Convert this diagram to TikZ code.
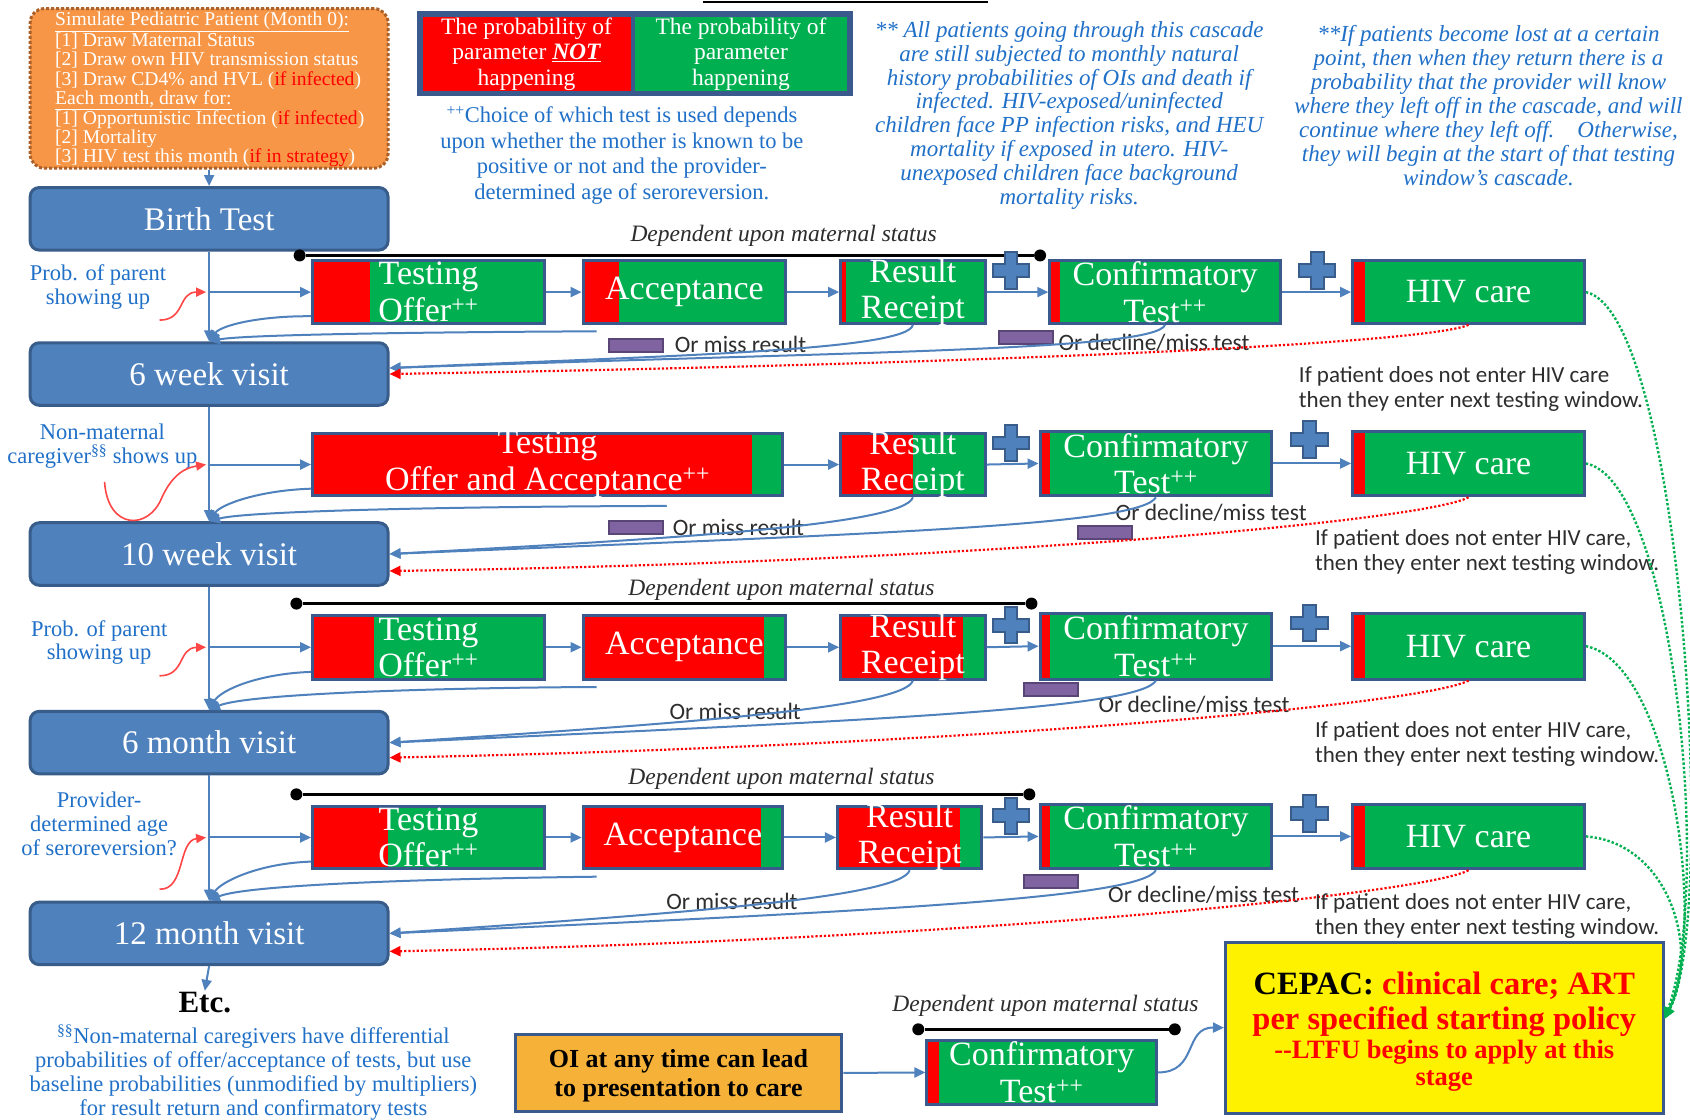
\documentclass[tikz,border=0pt]{standalone}
\usepackage{fontspec}
\setmainfont{Liberation Serif}
\newfontfamily\notefont{Carlito}
\usetikzlibrary{arrows.meta,fit,calc}

\definecolor{visitfill}{RGB}{79,129,189}
\definecolor{visitedge}{RGB}{56,93,138}
\definecolor{okgreen}{RGB}{0,176,80}
\definecolor{nored}{RGB}{255,0,0}
\definecolor{stepedge}{RGB}{58,90,142}
\definecolor{simfill}{RGB}{247,150,70}
\definecolor{simedge}{RGB}{170,96,40}
\definecolor{oifill}{RGB}{246,178,56}
\definecolor{noteblue}{RGB}{32,112,200}
\definecolor{minusfill}{RGB}{128,100,162}
\definecolor{minusedge}{RGB}{90,70,118}
\definecolor{flowblue}{RGB}{79,129,189}
\definecolor{notegray}{RGB}{45,45,45}
\definecolor{hintred}{RGB}{255,70,70}

\newcommand{\fs}[2]{\fontsize{#1}{#2}\selectfont}

\begin{document}
\begin{tikzpicture}[x=1.0778pt,y=-1.0778pt,
  visit/.style={draw=visitedge,line width=3pt,fill=visitfill,rounded corners=9pt,inner sep=0pt},
  visittext/.style={text=white,font=\fs{33}{36},inner sep=0pt},
  stepbox/.style={draw=stepedge,line width=3pt,fill=okgreen,inner sep=0pt},
  redstepbox/.style={stepbox,fill=nored},
  steptext/.style={text=white,align=center,font=\fs{34}{36.5},inner sep=0pt},
  redpart/.style={path picture={\fill[nored] (path picture bounding box.north west) rectangle ([xshift=#1]path picture bounding box.south west);}},
  greenpart/.style={path picture={\fill[okgreen] ([xshift=-#1]path picture bounding box.north east) rectangle (path picture bounding box.south east);}},
  flow/.style={draw=flowblue,line width=2pt,-{Triangle[length=11pt,width=10pt]}},
  lost/.style={draw=nored,line width=2.2pt,dotted,-{Triangle[length=11pt,width=10pt]}},
  tocare/.style={draw=okgreen,line width=2.4pt,dotted,-{Triangle[length=11pt,width=10pt]}},
  hint/.style={draw=hintred,line width=1.6pt,-{Triangle[length=10pt,width=9pt]}},
  minus/.style={draw=minusedge,line width=2pt,fill=minusfill,minimum width=54pt,minimum height=13pt,inner sep=0pt},
  depline/.style={line width=2.5pt,black},
  depdot/.style={circle,fill=black,minimum size=12pt,inner sep=0pt},
  deplabel/.style={font=\itshape\fs{23.5}{26},text=notegray,inner sep=0pt},
  missnote/.style={font=\notefont\fs{23.5}{25},text=notegray,anchor=west,inner sep=0pt},
  carenote/.style={font=\notefont\fs{23}{25},text=notegray,align=left,anchor=west,inner sep=0pt},
  bluenote/.style={text=noteblue,align=center,inner sep=0pt},
  pics/plussign/.style={code={\filldraw[fill=visitfill,draw=visitedge,line width=2pt]
    (-6,-17)--(6,-17)--(6,-6)--(17,-6)--(17,6)--(6,6)--(6,17)--(-6,17)--(-6,6)--(-17,6)--(-17,-6)--(-6,-6)--cycle;}}
]
\useasboundingbox (0,0) rectangle (1568,1039);
\fill[white] (0,0) rectangle (1568,1039);

% ---------- simulation set-up ----------
\node[draw=simedge,line width=3pt,dash pattern=on 3pt off 2pt,fill=simfill,rounded corners=14pt,inner sep=0pt,fit={(28,8)(360,156)}] (sim) {};
\node[anchor=north west,inner sep=0pt,text=white,align=left,font=\fs{19.6}{19.4}] (sim-l) at (51,11) {%
\underline{Simulate Pediatric Patient (Month 0):}\\
{[1]} Draw Maternal Status\\
{[2]} Draw own HIV transmission status\\
{[3]} Draw CD4\% and HVL (\textcolor{nored}{if infected})\\
\underline{Each month, draw for:}\\
{[1]} Opportunistic Infection (\textcolor{nored}{if infected})\\
{[2]} Mortality\\
{[3]} HIV test this month (\textcolor{nored}{if in strategy})};

% ---------- legend ----------
\node[fill=stepedge,draw=stepedge,line width=3pt,inner sep=0pt,fit={(388,12)(790,88)}] (legend) {};
\node[fill=nored,inner sep=0pt,fit={(392,16)(585,84)}] (legend-no) {};
\node[fill=okgreen,inner sep=0pt,fit={(589,16)(786,84)}] (legend-yes) {};
\node[text=white,align=center,font=\fs{23.5}{25.5},inner sep=0pt] (legend-no-l) at (legend-no) {The probability of\\ parameter \textbf{\textit{\underline{NOT}}}\\ happening};
\node[text=white,align=center,font=\fs{23.5}{25.5},inner sep=0pt] (legend-yes-l) at (legend-yes) {The probability of\\ parameter\\ happening};

\coordinate (topl) at (652,2);
\coordinate (topr) at (917,2);
\draw[depline] (topl) -- (topr);

% ---------- notes at the top ----------
\node[bluenote,font=\fs{22.5}{25.5}] (choice) at (577,144) {\textsuperscript{++}Choice of which test is used depends\\ upon whether the mother is known to be\\ positive or not and the provider-\\ determined age of seroreversion.};
\node[bluenote,font=\itshape\fs{23}{23.8}] (natural) at (992,107) {** All patients going through this cascade\\ are still subjected to monthly natural\\ history probabilities of OIs and death if\\ infected. HIV-exposed/uninfected\\ children face PP infection risks, and HEU\\ mortality if exposed in utero. HIV-\\ unexposed children face background\\ mortality risks.};
\node[bluenote,font=\itshape\fs{23}{24}] (lostnote) at (1381,98) {**If patients become lost at a certain\\ point, then when they return there is a\\ probability that the provider will know\\ where they left off in the cascade, and will\\ continue where they left off.\quad Otherwise,\\ they will begin at the start of that testing\\ window's cascade.};

% ---------- visits ----------
\node[visit,fit={(28,174)(360,232)}] (birth) {};
\node[visittext] (birth-l) at (birth) {Birth Test};
\node[visit,fit={(28,318)(360,376)}] (w6) {};
\node[visittext] (w6-l) at (w6) {6 week visit};
\node[visit,fit={(28,485)(360,543)}] (w10) {};
\node[visittext] (w10-l) at (w10) {10 week visit};
\node[visit,fit={(28,660)(360,718)}] (m6) {};
\node[visittext] (m6-l) at (m6) {6 month visit};
\node[visit,fit={(28,837)(360,895)}] (m12) {};
\node[visittext] (m12-l) at (m12) {12 month visit};
\node[font=\bfseries\fs{31}{32},inner sep=1pt] (etc) at (190,930) {Etc.};

\draw[flow] (sim.south) -- (birth.north);
\draw[flow] (birth.south) -- (w6.north);
\draw[flow] (w6.south) -- (w10.north);
\draw[flow] (w10.south) -- (m6.north);
\draw[flow] (m6.south) -- (m12.north);
\draw[flow] (m12.south) -- (etc.north);

% ---------- row 1: birth test ----------
\node[depdot] (d1l) at (278,237) {};
\node[depdot] (d1r) at (965,237) {};
\draw[depline] (d1l) -- (d1r);
\node[deplabel] (d1-l) at (727,219) {Dependent upon maternal status};

\node[stepbox,redpart=57pt,fit={(290,242)(505,300)}] (t1) {};
\node[steptext] (t1-l) at (t1) {Testing\\ Offer\textsuperscript{++}};
\node[stepbox,redpart=36pt,fit={(541,242)(729,300)}] (a1) {};
\node[steptext] (a1-l) at (a1) {Acceptance};
\node[stepbox,redpart=5pt,fit={(780,242)(914,300)}] (r1) {};
\node[steptext] (r1-l) at (r1) {Result\\ Receipt};
\node[stepbox,redpart=10pt,fit={(974,242)(1188,300)}] (c1) {};
\node[steptext] (c1-l) at (c1) {Confirmatory\\ Test\textsuperscript{++}};
\node[stepbox,redpart=12pt,fit={(1255,242)(1470,300)}] (h1) {};
\node[steptext] (h1-l) at (h1) {HIV care};
\pic at (938,251) {plussign};
\pic at (1222,251) {plussign};

\coordinate (j1) at (birth.south |- t1.west);
\draw[flow] (j1) -- (t1.west);
\draw[flow] (t1.east) -- (a1.west);
\draw[flow] (a1.east) -- (r1.west);
\draw[flow] (r1.east) -- (c1.west);
\draw[flow] (c1.east) -- (h1.west);

\node[bluenote,font=\fs{22.5}{23.7}] (p1) at (91,266) {Prob. of parent\\ showing up};
\coordinate (p1s) at (148,297);
\draw[hint] (p1s) .. controls (172,297) and (165,271) .. ([xshift=-3pt]j1);

\draw[flow] ($(t1.south west)+(0,-8)$) .. controls (240,293) and (205,302) .. (w6.north);
\draw[flow] ($(a1.south west)+(14,6)$) .. controls (420,308) and (230,310) .. (w6.north);

\node[minus] (m1a) at (590,321) {};
\node[missnote] (n1a) at (626,320) {Or miss result};
\node[minus] (m1b) at (952,313) {};
\node[missnote] (n1b) at (982,318) {Or decline/miss test};
\draw[flow] (r1.south) .. controls ($(r1.south)+(-5,24)$) and (620,330) .. ([yshift=6pt]w6.east);
\draw[flow] (c1.south) .. controls ($(c1.south)+(-10,24)$) and (800,326) .. ([yshift=6pt]w6.east);
\draw[lost] (h1.south) .. controls ($(h1.south)+(-40,18)$) and (900,338) .. (w6.east);
\node[carenote] (k1) at (1205,361) {If patient does not enter HIV care\\ then they enter next testing window.};

% ---------- row 2: 6 week visit ----------
\node[redstepbox,greenpart=30pt,fit={(290,402)(726,460)}] (t2) {};
\node[steptext] (t2-l) at (t2) {Testing\\ Offer and Acceptance\textsuperscript{++}};
\node[stepbox,redpart=72pt,fit={(780,402)(914,460)}] (r2) {};
\node[steptext] (r2-l) at (r2) {Result\\ Receipt};
\node[stepbox,redpart=10pt,fit={(965,400)(1180,460)}] (c2) {};
\node[steptext] (c2-l) at (c2) {Confirmatory\\ Test\textsuperscript{++}};
\node[stepbox,redpart=12pt,fit={(1255,400)(1470,460)}] (h2) {};
\node[steptext] (h2-l) at (h2) {HIV care};
\pic at (938,411) {plussign};
\pic at (1215,408) {plussign};

\coordinate (j2) at (w6.south |- t2.west);
\draw[flow] (j2) -- (t2.west);
\draw[flow] (t2.east) -- (r2.west);
\draw[flow] (r2.east) -- (c2.west);
\draw[flow] (c2.east) -- (h2.west);

\node[bluenote,font=\fs{22.5}{23.7}] (p2) at (95,414) {Non-maternal\\ caregiver\textsuperscript{§§} shows up};
\coordinate (p2s) at (97,447);
\draw[hint] (p2s) .. controls (100,492) and (138,492) .. (150,462) .. controls (160,440) and (172,434) .. ([xshift=-3pt]j2);

\draw[flow] ($(t2.south west)+(0,-8)$) .. controls (240,455) and (205,468) .. (w10.north);
\draw[flow] ($(t2.south west)+(330,8)$) .. controls (420,470) and (230,474) .. (w10.north);

\node[minus] (m2a) at (590,489) {};
\node[missnote] (n2a) at (624,489) {Or miss result};
\node[minus] (m2b) at (1025,494) {};
\node[missnote] (n2b) at (1035,476) {Or decline/miss test};
\draw[flow] (r2.south) .. controls ($(r2.south)+(-8,26)$) and (620,500) .. (w10.east);
\draw[flow] (c2.south) .. controls ($(c2.south)+(-15,26)$) and (820,495) .. (w10.east);
\draw[lost] (h2.south) .. controls ($(h2.south)+(-40,22)$) and (900,522) .. ([yshift=-17pt]w10.east);
\node[carenote] (k2) at (1220,512) {If patient does not enter HIV care,\\ then they enter next testing window.};

% ---------- row 3: 10 week visit ----------
\node[depdot] (d3l) at (275,560) {};
\node[depdot] (d3r) at (957,560) {};
\draw[depline] (d3l) -- (d3r);
\node[deplabel] (d3-l) at (725,547) {Dependent upon maternal status};

\node[stepbox,redpart=61pt,fit={(290,571)(505,630)}] (t3) {};
\node[steptext] (t3-l) at (t3) {Testing\\ Offer\textsuperscript{++}};
\node[redstepbox,greenpart=22pt,fit={(541,571)(729,630)}] (a3) {};
\node[steptext] (a3-l) at (a3) {Acceptance};
\node[redstepbox,greenpart=22pt,fit={(780,571)(914,630)}] (r3) {};
\node[steptext] (r3-l) at (r3) {Result\\ Receipt};
\node[stepbox,redpart=10pt,fit={(965,569)(1180,630)}] (c3) {};
\node[steptext] (c3-l) at (c3) {Confirmatory\\ Test\textsuperscript{++}};
\node[stepbox,redpart=12pt,fit={(1255,569)(1470,630)}] (h3) {};
\node[steptext] (h3-l) at (h3) {HIV care};
\pic at (938,580) {plussign};
\pic at (1215,578) {plussign};

\coordinate (j3) at (w10.south |- t3.west);
\draw[flow] (j3) -- (t3.west);
\draw[flow] (t3.east) -- (a3.west);
\draw[flow] (a3.east) -- (r3.west);
\draw[flow] (r3.east) -- (c3.west);
\draw[flow] (c3.east) -- (h3.west);

\node[bluenote,font=\fs{22.5}{23.7}] (p3) at (92,596) {Prob. of parent\\ showing up};
\coordinate (p3s) at (148,627);
\draw[hint] (p3s) .. controls (172,627) and (165,601) .. ([xshift=-3pt]j3);

\draw[flow] ($(t3.south west)+(0,-8)$) .. controls (240,625) and (205,640) .. (m6.north);
\draw[flow] ($(a3.south west)+(14,6)$) .. controls (420,638) and (230,643) .. (m6.north);

\node[minus] (m3b) at (975,640) {};
\node[missnote] (n3a) at (621,660) {Or miss result};
\node[missnote] (n3b) at (1019,654) {Or decline/miss test};
\draw[flow] (r3.south) .. controls ($(r3.south)+(-8,26)$) and (620,672) .. (m6.east);
\draw[flow] (c3.south) .. controls ($(c3.south)+(-15,26)$) and (820,668) .. (m6.east);
\draw[lost] (h3.south) .. controls ($(h3.south)+(-40,22)$) and (900,692) .. ([yshift=-15pt]m6.east);
\node[carenote] (k3) at (1220,690) {If patient does not enter HIV care,\\ then they enter next testing window.};

% ---------- row 4: 6 month visit ----------
\node[depdot] (d4l) at (275,737) {};
\node[depdot] (d4r) at (955,737) {};
\draw[depline] (d4l) -- (d4r);
\node[deplabel] (d4-l) at (725,723) {Dependent upon maternal status};

\node[stepbox,redpart=75pt,fit={(290,748)(505,806)}] (t4) {};
\node[steptext] (t4-l) at (t4) {Testing\\ Offer\textsuperscript{++}};
\node[redstepbox,greenpart=21pt,fit={(541,748)(726,806)}] (a4) {};
\node[steptext] (a4-l) at (a4) {Acceptance};
\node[redstepbox,greenpart=22pt,fit={(777,748)(911,806)}] (r4) {};
\node[steptext] (r4-l) at (r4) {Result\\ Receipt};
\node[stepbox,redpart=10pt,fit={(965,746)(1180,806)}] (c4) {};
\node[steptext] (c4-l) at (c4) {Confirmatory\\ Test\textsuperscript{++}};
\node[stepbox,redpart=12pt,fit={(1255,746)(1470,806)}] (h4) {};
\node[steptext] (h4-l) at (h4) {HIV care};
\pic at (938,757) {plussign};
\pic at (1215,755) {plussign};

\coordinate (j4) at (m6.south |- t4.west);
\draw[flow] (j4) -- (t4.west);
\draw[flow] (t4.east) -- (a4.west);
\draw[flow] (a4.east) -- (r4.west);
\draw[flow] (r4.east) -- (c4.west);
\draw[flow] (c4.east) -- (h4.west);

\node[bluenote,font=\fs{22.5}{24}] (p4) at (92,764) {Provider-\\ determined age\\ of seroreversion?};
\coordinate (p4s) at (148,825);
\draw[hint] (p4s) .. controls (172,826) and (165,780) .. ([xshift=-3pt]j4);

\draw[flow] ($(t4.south west)+(0,-8)$) .. controls (240,801) and (205,818) .. (m12.north);
\draw[flow] ($(a4.south west)+(14,6)$) .. controls (420,815) and (230,820) .. (m12.north);

\node[minus] (m4b) at (975,818) {};
\node[missnote] (n4a) at (618,836) {Or miss result};
\node[missnote] (n4b) at (1028,830) {Or decline/miss test};
\draw[flow] (r4.south) .. controls ($(r4.south)+(-8,26)$) and (620,848) .. (m12.east);
\draw[flow] (c4.south) .. controls ($(c4.south)+(-15,26)$) and (820,845) .. (m12.east);
\draw[lost] (h4.south) .. controls ($(h4.south)+(-40,22)$) and (900,872) .. ([yshift=-18pt]m12.east);
\node[carenote] (k4) at (1220,850) {If patient does not enter HIV care,\\ then they enter next testing window.};

% ---------- presentation with an OI, and care ----------
\node[bluenote,font=\fs{22.5}{24}] (nonmat) at (235,995) {\textsuperscript{§§}Non-maternal caregivers have differential\\ probabilities of offer/acceptance of tests, but use\\ baseline probabilities (unmodified by multipliers)\\ for result return and confirmatory tests};

\node[draw=stepedge,line width=3pt,fill=oifill,inner sep=0pt,fit={(478,960)(781,1031)}] (oi) {};
\node[align=center,font=\bfseries\fs{26}{28.5},inner sep=0pt] (oi-l) at ([yshift=-3pt]oi.center) {OI at any time can lead\\ to presentation to care};

\node[depdot] (d5l) at (852,955) {};
\node[depdot] (d5r) at (1090,955) {};
\draw[depline] (d5l) -- (d5r);
\node[deplabel] (d5-l) at (970,933) {Dependent upon maternal status};

\node[stepbox,redpart=12pt,fit={(860,965)(1073,1025)}] (cb) {};
\node[steptext] (cb-l) at (cb) {Confirmatory\\ Test\textsuperscript{++}};

\node[draw=stepedge,line width=3pt,fill=yellow,inner sep=0pt,fit={(1137,874)(1543,1033)}] (cep) {};
\node[align=center,inner sep=0pt,font=\bfseries\fs{32.5}{34.5}] (cep-l) at ([yshift=-4pt]cep.center) {CEPAC: \textcolor{nored}{clinical care; ART}\\ \textcolor{nored}{per specified starting policy}\\[-5.5pt] \textcolor{nored}{\fs{26.5}{29}-{}-LTFU begins to apply at this}\\[-7.5pt] \textcolor{nored}{\fs{26.5}{27}stage}};

\draw[flow] (oi.east) -- (cb.west);
\draw[flow] (cb.east) .. controls (1112,995) and (1098,953) .. (cep.west);

\draw[tocare] (h1.east) .. controls (1560,290) and (1595,850) .. ([yshift=9pt]cep.east);
\draw[tocare] (h2.east) .. controls (1552,445) and (1590,820) .. ([yshift=9pt]cep.east);
\draw[tocare] (h3.east) .. controls (1550,615) and (1585,860) .. ([yshift=9pt]cep.east);
\draw[tocare] (h4.east) .. controls (1548,782) and (1578,880) .. ([yshift=9pt]cep.east);
\end{tikzpicture}
\end{document}
